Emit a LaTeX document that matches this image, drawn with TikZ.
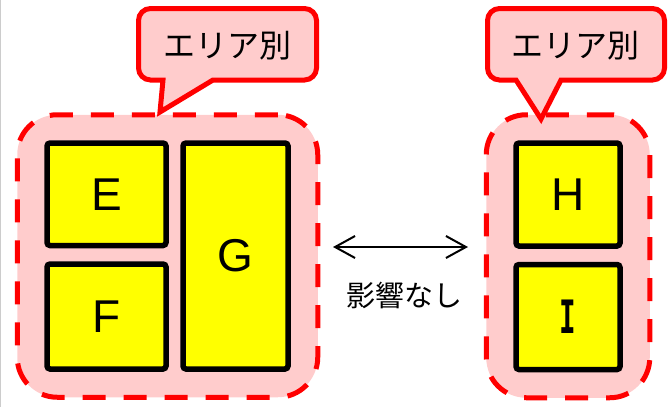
\documentclass[tikz,border=0pt]{standalone}
\usepackage{fontspec}
\setmainfont{Liberation Sans}
\newfontfamily\jpfont{Noto Sans CJK JP}
\newfontfamily\slabfont{DejaVu Sans Mono}
\usetikzlibrary{arrows.meta,backgrounds,fit,positioning}
\definecolor{areapink}{RGB}{255,204,204}
\definecolor{blockyellow}{RGB}{255,255,0}
\tikzset{x=1pt, y=-1pt, % one unit is one pixel, y grows downwards
area/.style={draw=red, fill=areapink, line width=5pt, dash pattern=on 23pt off 18pt, rounded corners=40pt, inner xsep=27pt, inner ysep=25.5pt}, % dashed area round the blocks
block/.style={draw=black, fill=blockyellow, line width=5.5pt, rounded corners=3pt, font=\fontsize{46}{46}\selectfont}, % yellow blocks
tag/.style={draw=red, fill=areapink, line width=5pt, line join=miter}, % speech bubble outline
tagtext/.style={font=\jpfont\fontsize{32}{32}\selectfont}, % text in the bubble
link/.style={{Straight Barb[length=20pt,width=22pt]}-{Straight Barb[length=20pt,width=22pt]}, line width=2pt}, % double arrow
}

\begin{document}
\begin{tikzpicture}
\useasboundingbox (0,0) rectangle (668,407);
\draw[gray!40, line width=1pt] (0.5,0) -- (0.5,407);
% left area
\node[block, minimum width=119pt, minimum height=102.5pt] (E) at (106.5,194.25) {E};
\node[block, minimum width=119pt, minimum height=105pt, below=13pt of E] (F) {F};
\node[block, minimum width=105pt, minimum height=226pt] (G) at (235.5,256) {G};
% right area
\node[block, minimum width=104pt, minimum height=103pt] (H) at (568,194.5) {H};
\node[block, minimum width=104pt, minimum height=105pt, below=13pt of H] (I) {\scalebox{0.6}[1]{\slabfont\bfseries I}};
\begin{scope}[on background layer]
\node[area, fit=(E)(F)(G)] (areaL) {};
\node[area, fit=(H)(I)] (areaR) {};
\end{scope}
% bubbles
\draw[tag] (160,112) -- (163,80) -- (150,80) [rounded corners=12pt] -- (138.5,80) -- (138.5,8.5) -- (316.5,8.5) -- (316.5,80) -- (230,80) [sharp corners] -- (213,80) -- cycle;
\node[tagtext] (tagL) at (227.5,46) {エリア別};
\draw[tag] (541,119) -- (516,80) -- (505,80) [rounded corners=12pt] -- (487.5,80) -- (487.5,8.5) -- (664.5,8.5) -- (664.5,80) -- (575,80) [sharp corners] -- (561,80) -- cycle;
\node[tagtext] (tagR) at (575,46) {エリア別};
% no influence between the areas
\coordinate (linkL) at (333,247);
\coordinate (linkR) at (468,247);
\draw[link] (linkL) -- (linkR);
\node[font=\jpfont\fontsize{29}{29}\selectfont] (none) at (404,295) {影響なし};
\end{tikzpicture}
\end{document}
